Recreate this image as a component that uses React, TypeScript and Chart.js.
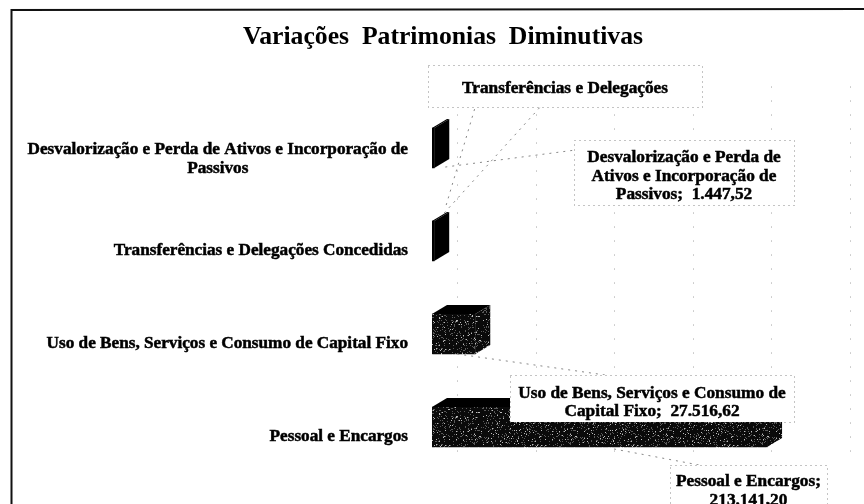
import React, { useEffect, useRef } from "react";
import { Chart, registerables } from "chart.js";

Chart.register(...registerables);

const chartTitle = "Variações  Patrimonias  Diminutivas";
const categories = [
  ["Desvalorização e Perda de Ativos e Incorporação de", "Passivos"],
  ["Transferências e Delegações Concedidas"],
  ["Uso de Bens, Serviços e Consumo de Capital Fixo"],
  ["Pessoal e Encargos"],
];
const values = [1447.52, 1400, 27516.62, 213141.2];
const valueLabels = [
  ["Desvalorização e Perda de", "Ativos e Incorporação de", "Passivos;  1.447,52"],
  ["Transferências e Delegações"],
  ["Uso de Bens, Serviços e Consumo de", "Capital Fixo;  27.516,62"],
  ["Pessoal e Encargos;", "213.141,20"],
];
const axisMax = 250000;
const axisStep = 50000;

const SERIF = '"Liberation Serif", "Times New Roman", serif';
const DEPTH_X = 15;
const DEPTH_Y = 9;
const WALL_X = 25;

// label boxes, relative to the end of each bar: dx, dy, w, h, text shift
const boxLayout = [
  [140, -8, 220, 65, 4],
  [-6, -176, 274, 42, 3],
  [35, 41, 284, 47, 4],
  [-97, 38, 157, 52, 0],
];
// leader lines, relative to the end of each bar
const leaderLayout = [
  [[[11, 19], [141, 2]]],
  [[[10, -28], [106, -134]], [[12, -36], [41, -134]]],
  [[[-18, 20], [130, 41]]],
  [[[-153, 22], [-68, 38]]],
];

function makeSpeckle(): CanvasPattern | string {
  const c = document.createElement("canvas");
  c.width = 96;
  c.height = 96;
  const g = c.getContext("2d");
  if (!g) return "#111";
  g.fillStyle = "#0a0a0a";
  g.fillRect(0, 0, 96, 96);
  for (let y = 0; y < 96; y++) {
    for (let x = 0; x < 96; x++) {
      const h = Math.abs(Math.sin(x * 12.9898 + y * 78.233) * 43758.5453) % 1;
      if (h < 0.14) {
        g.fillStyle = h < 0.03 ? "#bdbdbd" : "#5a5a5a";
        g.fillRect(x, y, 1, 1);
      }
    }
  }
  return g.createPattern(c, "repeat") || "#111";
}

const paperPlugin = {
  id: "paper",
  beforeDraw(chart: any) {
    const { ctx, width, height } = chart;
    ctx.save();
    ctx.fillStyle = "#fff";
    ctx.fillRect(0, 0, width, height);
    ctx.strokeStyle = "#111";
    ctx.lineWidth = 2;
    ctx.beginPath();
    ctx.moveTo(11.5, height);
    ctx.lineTo(11.5, 10);
    ctx.lineTo(width, 9);
    ctx.stroke();
    ctx.restore();
  },
  beforeDatasetsDraw(chart: any) {
    const { ctx, chartArea, scales } = chart;
    ctx.save();
    ctx.strokeStyle = "#a0a0a0";
    ctx.lineWidth = 1;
    ctx.setLineDash([1, 13]);
    for (const t of scales.x.ticks) {
      const px = Math.round(scales.x.getPixelForValue(t.value) + WALL_X) + 0.5;
      ctx.beginPath();
      ctx.moveTo(px, chartArea.top - 15);
      ctx.lineTo(px, chartArea.bottom - 20);
      ctx.stroke();
    }
    ctx.restore();
  },
};

const bar3dPlugin = {
  id: "bar3d",
  afterDatasetsDraw(chart: any) {
    const { ctx } = chart;
    const els = chart.getDatasetMeta(0).data;
    const fills = chart.data.datasets[0].backgroundColor;
    ctx.save();
    els.forEach((el: any, i: number) => {
      const { x, y, base, height } = el.getProps(["x", "y", "base", "height"], true);
      const top = y - height / 2;
      const bottom = y + height / 2;
      ctx.fillStyle = "#000";
      ctx.beginPath();
      ctx.moveTo(base, top);
      ctx.lineTo(base + DEPTH_X, top - DEPTH_Y);
      ctx.lineTo(x + DEPTH_X, top - DEPTH_Y);
      ctx.lineTo(x, top);
      ctx.closePath();
      ctx.fill();
      ctx.fillStyle = fills[i];
      ctx.beginPath();
      ctx.moveTo(x, top);
      ctx.lineTo(x + DEPTH_X, top - DEPTH_Y);
      ctx.lineTo(x + DEPTH_X, bottom - DEPTH_Y);
      ctx.lineTo(x, bottom);
      ctx.closePath();
      ctx.fill();
    });
    ctx.restore();
  },
};

function heavyText(ctx: CanvasRenderingContext2D, s: string, x: number, y: number) {
  ctx.strokeText(s, x, y);
  ctx.fillText(s, x, y);
}

const labelsPlugin = {
  id: "chartLabels",
  afterDraw(chart: any) {
    const { ctx, scales } = chart;
    const els = chart.getDatasetMeta(0).data;
    ctx.save();

    // category labels, on the axis, with centred lines
    ctx.fillStyle = "#000";
    ctx.font = `bold 17.2px ${SERIF}`;
    ctx.textBaseline = "middle";
    ctx.textAlign = "center";
    const lh = 19;
    categories.forEach((lines, i) => {
      const widest = Math.max(...lines.map((l) => ctx.measureText(l).width));
      const cx = 408 - widest / 2;
      const cy = scales.y.getPixelForTick(i) + DEPTH_Y + (lines.length > 1 ? 2 : 1);
      lines.forEach((l, j) => {
        ctx.strokeStyle = "#000";
        ctx.lineWidth = 0.5;
        heavyText(ctx, l, cx, cy + (j - (lines.length - 1) / 2) * lh);
      });
    });

    // leader lines
    ctx.strokeStyle = "#888";
    ctx.lineWidth = 1;
    ctx.setLineDash([2, 5]);
    leaderLayout.forEach((segs, i) => {
      const el = els[i];
      segs.forEach(([a, b]) => {
        ctx.beginPath();
        ctx.moveTo(el.x + a[0], el.y + a[1]);
        ctx.lineTo(el.x + b[0], el.y + b[1]);
        ctx.stroke();
      });
    });

    // value label boxes
    valueLabels.forEach((lines, i) => {
      const el = els[i];
      const [dx, dy, w, h, shift] = boxLayout[i];
      const left = Math.round(el.x + dx);
      const top = Math.round(el.y + dy);
      ctx.fillStyle = "#fff";
      ctx.fillRect(left, top, w, h);
      ctx.strokeStyle = "#888";
      ctx.lineWidth = 1;
      ctx.setLineDash([1, 4]);
      ctx.strokeRect(left + 0.5, top + 0.5, w, h);
      ctx.setLineDash([]);
      ctx.fillStyle = "#000";
      ctx.strokeStyle = "#000";
      ctx.lineWidth = 0.5;
      ctx.font = `bold 17.3px ${SERIF}`;
      const step = 18.5;
      lines.forEach((l, j) => {
        heavyText(ctx, l, left + w / 2, top + h / 2 + shift + (j - (lines.length - 1) / 2) * step);
      });
      ctx.setLineDash([2, 5]);
    });
    ctx.restore();
  },
};

export default function App() {
  const ref = useRef<HTMLCanvasElement>(null);

  useEffect(() => {
    if (!ref.current) return;
    const speckle = makeSpeckle();
    const chart = new Chart(ref.current, {
      type: "bar",
      data: {
        labels: categories,
        datasets: [
          {
            data: values,
            backgroundColor: ["#000", "#000", speckle, speckle] as any,
            borderWidth: 0,
            barThickness: 40,
          },
        ],
      },
      options: {
        indexAxis: "y",
        animation: false,
        responsive: false,
        layout: { padding: { left: 61, right: 39, top: 10, bottom: 30.5 } },
        plugins: {
          legend: { display: false },
          tooltip: { enabled: false },
          title: {
            display: true,
            text: chartTitle,
            color: "#000",
            font: { family: SERIF, size: 25.7, weight: "bold" },
            padding: { top: 11.6, bottom: 49.1 },
          },
        },
        scales: {
          x: {
            display: false,
            min: 0,
            max: axisMax,
            ticks: { stepSize: axisStep },
            grid: { display: false },
          },
          y: {
            grid: { display: false },
            border: { display: false },
            ticks: { display: false },
            afterFit(scale: any) {
              scale.width = 371;
            },
          },
        },
      },
      plugins: [paperPlugin, bar3dPlugin, labelsPlugin],
    } as any);
    return () => chart.destroy();
  }, []);

  return (
    <div style={{ position: "absolute", left: 0, top: 0, width: 864, height: 504, overflow: "hidden" }}>
      <canvas ref={ref} width={864} height={504} style={{ display: "block" }} />
    </div>
  );
}
